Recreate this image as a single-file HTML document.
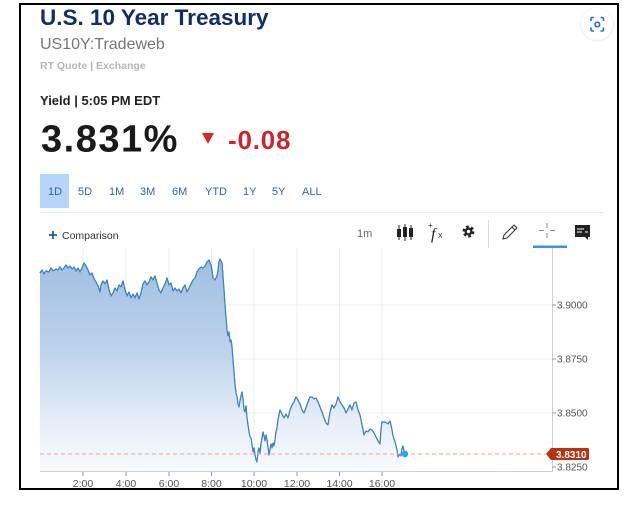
<!DOCTYPE html>
<html><head><meta charset="utf-8"><style>
html,body{margin:0;padding:0;background:#fff;}
body{width:628px;height:509px;overflow:hidden;}
svg{display:block;font-family:"Liberation Sans",sans-serif;}
</style></head><body>
<svg width="628" height="509" viewBox="0 0 628 509" xmlns="http://www.w3.org/2000/svg">
<defs>
<linearGradient id="g" x1="0" y1="258" x2="0" y2="471" gradientUnits="userSpaceOnUse">
<stop offset="0" stop-color="#a0bfe1"/>
<stop offset="0.45" stop-color="#bed3ec"/>
<stop offset="0.75" stop-color="#e4edf8"/>
<stop offset="1" stop-color="#f8fafd"/>
</linearGradient>
</defs>
<rect width="628" height="509" fill="#fff"/>

<!-- header -->
<text x="40" y="25" font-size="22.5" font-weight="bold" fill="#112e6a">U.S. 10 Year Treasury</text>
<text x="40" y="49" font-size="16" fill="#767676">US10Y:Tradeweb</text>
<text x="40" y="69" font-size="10.5" font-weight="bold" fill="#b5b5b5">RT Quote | Exchange</text>
<text x="40" y="105" font-size="13" font-weight="bold" fill="#222">Yield | 5:05 PM EDT</text>
<text x="41" y="151.5" font-size="38" font-weight="bold" fill="#1a1a1a" letter-spacing="1.5">3.831%</text>
<polygon points="202,133 214,133 208,144" fill="#d42a2a"/>
<text x="228" y="149" font-size="26" font-weight="bold" fill="#d0242b" letter-spacing="0.8">-0.08</text>

<!-- camera button -->
<circle cx="597" cy="24.5" r="17" fill="#f1f1f1"/>
<circle cx="597" cy="24" r="16" fill="#fff"/>
<g fill="none" stroke="#2a6ecf" stroke-width="1.6">
<path d="M591,21 V19 Q591,17.5 592.5,17.5 H594"/>
<path d="M600.5,17.5 H602 Q603.5,17.5 603.5,19 V21"/>
<path d="M591,27.5 V29.5 Q591,31 592.5,31 H594"/>
<path d="M600.5,31 H602 Q603.5,31 603.5,29.5 V27.5"/>
<circle cx="597.3" cy="24.5" r="2.3"/>
</g>

<!-- tabs -->
<rect x="40" y="174" width="29" height="34" fill="#b5d5fa"/>
<g font-size="11" fill="#2768b8">
<text x="48" y="195">1D</text>
<text x="78" y="195">5D</text>
<text x="109" y="195">1M</text>
<text x="140" y="195">3M</text>
<text x="172" y="195">6M</text>
<text x="205" y="195">YTD</text>
<text x="243" y="195">1Y</text>
<text x="272" y="195">5Y</text>
<text x="302" y="195">ALL</text>
</g>
<line x1="40" y1="212.5" x2="604" y2="212.5" stroke="#e6e6e6" stroke-width="1"/>

<!-- toolbar -->
<path d="M49,235 H57 M53,231 V239" stroke="#1f5fb0" stroke-width="1.8"/>
<text x="62" y="239" font-size="10.5" fill="#333">Comparison</text>
<text x="357" y="237" font-size="11" fill="#666">1m</text>
<!-- candles -->
<g stroke="#222" stroke-width="1">
<line x1="399" y1="225" x2="399" y2="240"/>
<line x1="405" y1="224" x2="405" y2="241"/>
<line x1="411" y1="225" x2="411" y2="240"/>
</g>
<g fill="#222">
<rect x="397" y="229" width="4" height="8"/>
<rect x="403" y="227" width="4" height="10"/>
<rect x="409" y="228" width="4" height="9"/>
</g>
<!-- fx -->
<text x="428" y="228" font-size="8" fill="#222">+</text>
<text x="431" y="239" font-size="16" font-style="italic" font-family="Liberation Serif, serif" fill="#222">f</text>
<text x="438" y="238" font-size="9" fill="#444">x</text>
<!-- gear -->
<circle cx="468.5" cy="231.5" r="4.3" fill="none" stroke="#222" stroke-width="3.4" stroke-dasharray="2.4 2.1"/>
<circle cx="468.5" cy="231.5" r="4" fill="#222"/>
<circle cx="468.5" cy="231.5" r="1.7" fill="#fff"/>
<line x1="488.5" y1="220" x2="488.5" y2="248" stroke="#dcdcdc"/>
<!-- pencil -->
<path d="M503,239 L504,235 L514,225 L517,228 L507,238 Z M512,227 L515,230" fill="none" stroke="#333" stroke-width="1"/>
<!-- crosshair -->
<g stroke="#888" stroke-width="1">
<line x1="547" y1="223" x2="547" y2="228"/>
<line x1="547" y1="233" x2="547" y2="238"/>
<line x1="539" y1="230.5" x2="544" y2="230.5"/>
<line x1="550" y1="230.5" x2="555" y2="230.5"/>
</g>
<rect x="533" y="245.5" width="34" height="2.5" fill="#3d8fe8"/>
<!-- comment icon -->
<path d="M575,225 H590 V237 H588 L588,240 L585,237 H575 Z" fill="#222"/>
<g stroke="#fff" stroke-width="1">
<line x1="577" y1="229" x2="584" y2="229"/>
<line x1="577" y1="232" x2="582" y2="232"/>
<line x1="585" y1="232" x2="588" y2="232"/>
</g>

<!-- grid -->
<g stroke="#ececec" stroke-width="1">
<line x1="83" y1="248" x2="83" y2="471"/>
<line x1="126" y1="248" x2="126" y2="471"/>
<line x1="169" y1="248" x2="169" y2="471"/>
<line x1="211.5" y1="248" x2="211.5" y2="471"/>
<line x1="254" y1="248" x2="254" y2="471"/>
<line x1="297" y1="248" x2="297" y2="471"/>
<line x1="339.5" y1="248" x2="339.5" y2="471"/>
<line x1="382" y1="248" x2="382" y2="471"/>
<line x1="40" y1="305" x2="552" y2="305"/>
<line x1="40" y1="359" x2="552" y2="359"/>
<line x1="40" y1="413" x2="552" y2="413"/>
</g>

<!-- series -->
<path id="ln" d="M40,273 L42,270 L44,274 L46,271 L49,272 L51,268 L53,271 L56,269 L58,270 L60,267 L62,270 L64,268 L66,265 L68,268 L70,266 L72,269 L74,267 L76,271 L78,268 L80,272 L82,268 L84,263 L86,266 L88,270 L90,275 L92,273 L94,279 L96,282 L98,286 L100,292 L101,285 L103,281 L105,284 L107,280 L109,290 L111,296 L113,293 L115,288 L117,291 L119,285 L121,287 L123,281 L125,290 L127,296 L129,292 L131,298 L133,294 L135,298 L137,293 L139,299 L141,293 L143,284 L145,281 L147,285 L149,282 L151,277 L153,280 L155,276 L157,283 L159,290 L161,293 L163,288 L165,284 L167,278 L169,285 L171,283 L173,291 L175,288 L177,291 L179,289 L181,293 L183,288 L185,285 L187,292 L189,288 L191,284 L193,280 L195,278 L197,272 L199,269 L201,267 L203,268 L205,266 L207,262 L209,260 L211,265 L212,270 L213,278 L215,280 L217,276 L218,270 L219,262 L220,259 L222,263 L223,276 L224,290 L225,305 L226,318 L227,330 L228,336 L229,332 L230,342 L231,340 L232,347 L233,360 L234,372 L235,385 L236,393 L237,397 L238,404 L239,407 L240,401 L241,396 L242,392 L243,399 L244,410 L245,412 L246,406 L247,418 L248,425 L249,432 L250,437 L251,438 L252,445 L253,452 L254,448 L255,455 L256,460 L257,462 L258,452 L259,448 L260,453 L261,444 L262,438 L263,432 L264,436 L265,441 L266,435 L267,440 L268,448 L269,455 L270,450 L271,444 L272,448 L273,443 L274,446 L275,440 L276,432 L277,428 L278,420 L279,415 L280,410 L282,414 L284,418 L286,414 L288,418 L290,410 L292,405 L294,402 L296,397 L298,400 L300,404 L302,410 L304,413 L306,408 L308,402 L310,397 L312,397 L314,399 L316,398 L318,402 L320,407 L322,412 L324,418 L326,423 L328,425 L330,412 L332,405 L334,408 L336,404 L338,397 L340,402 L342,405 L344,408 L346,413 L348,409 L350,405 L352,410 L354,403 L356,402 L358,410 L360,415 L362,425 L364,435 L366,431 L368,432 L370,429 L372,430 L374,433 L376,437 L378,441 L380,444 L381,430 L382,422 L385,422 L388,424 L390,421 L392,430 L393,436 L395,442 L397,450 L398,457 L400,454 L401,456 L402,449 L403,446 L404,451 L405,454" fill="none" stroke="#3b82c4" stroke-width="1.2" stroke-linejoin="round"/>
<path d="M40,273 L42,270 L44,274 L46,271 L49,272 L51,268 L53,271 L56,269 L58,270 L60,267 L62,270 L64,268 L66,265 L68,268 L70,266 L72,269 L74,267 L76,271 L78,268 L80,272 L82,268 L84,263 L86,266 L88,270 L90,275 L92,273 L94,279 L96,282 L98,286 L100,292 L101,285 L103,281 L105,284 L107,280 L109,290 L111,296 L113,293 L115,288 L117,291 L119,285 L121,287 L123,281 L125,290 L127,296 L129,292 L131,298 L133,294 L135,298 L137,293 L139,299 L141,293 L143,284 L145,281 L147,285 L149,282 L151,277 L153,280 L155,276 L157,283 L159,290 L161,293 L163,288 L165,284 L167,278 L169,285 L171,283 L173,291 L175,288 L177,291 L179,289 L181,293 L183,288 L185,285 L187,292 L189,288 L191,284 L193,280 L195,278 L197,272 L199,269 L201,267 L203,268 L205,266 L207,262 L209,260 L211,265 L212,270 L213,278 L215,280 L217,276 L218,270 L219,262 L220,259 L222,263 L223,276 L224,290 L225,305 L226,318 L227,330 L228,336 L229,332 L230,342 L231,340 L232,347 L233,360 L234,372 L235,385 L236,393 L237,397 L238,404 L239,407 L240,401 L241,396 L242,392 L243,399 L244,410 L245,412 L246,406 L247,418 L248,425 L249,432 L250,437 L251,438 L252,445 L253,452 L254,448 L255,455 L256,460 L257,462 L258,452 L259,448 L260,453 L261,444 L262,438 L263,432 L264,436 L265,441 L266,435 L267,440 L268,448 L269,455 L270,450 L271,444 L272,448 L273,443 L274,446 L275,440 L276,432 L277,428 L278,420 L279,415 L280,410 L282,414 L284,418 L286,414 L288,418 L290,410 L292,405 L294,402 L296,397 L298,400 L300,404 L302,410 L304,413 L306,408 L308,402 L310,397 L312,397 L314,399 L316,398 L318,402 L320,407 L322,412 L324,418 L326,423 L328,425 L330,412 L332,405 L334,408 L336,404 L338,397 L340,402 L342,405 L344,408 L346,413 L348,409 L350,405 L352,410 L354,403 L356,402 L358,410 L360,415 L362,425 L364,435 L366,431 L368,432 L370,429 L372,430 L374,433 L376,437 L378,441 L380,444 L381,430 L382,422 L385,422 L388,424 L390,421 L392,430 L393,436 L395,442 L397,450 L398,457 L400,454 L401,456 L402,449 L403,446 L404,451 L405,454 L405,471 L40,471 Z" fill="url(#g)"/>
<use href="#ln"/>

<!-- last price line -->
<line x1="40" y1="454" x2="546" y2="454" stroke="#f2a48f" stroke-width="1" stroke-dasharray="4 3"/>
<circle cx="405" cy="454" r="3.2" fill="#1ea7ec"/>

<!-- axes -->
<line x1="552.5" y1="248" x2="552.5" y2="472" stroke="#cfcfcf"/>
<line x1="40" y1="471.5" x2="553" y2="471.5" stroke="#cfcfcf"/>
<g stroke="#999" stroke-width="1">
<line x1="83" y1="472" x2="83" y2="476"/>
<line x1="126" y1="472" x2="126" y2="476"/>
<line x1="169" y1="472" x2="169" y2="476"/>
<line x1="211.5" y1="472" x2="211.5" y2="476"/>
<line x1="254" y1="472" x2="254" y2="476"/>
<line x1="297" y1="472" x2="297" y2="476"/>
<line x1="339.5" y1="472" x2="339.5" y2="476"/>
<line x1="382" y1="472" x2="382" y2="476"/>
<line x1="552" y1="305" x2="556" y2="305"/>
<line x1="552" y1="359" x2="556" y2="359"/>
<line x1="552" y1="413" x2="556" y2="413"/>
<line x1="552" y1="467" x2="556" y2="467"/>
</g>
<g font-size="10.5" fill="#555" text-anchor="middle">
<text x="83" y="487">2:00</text>
<text x="126" y="487">4:00</text>
<text x="169" y="487">6:00</text>
<text x="211.5" y="487">8:00</text>
<text x="254" y="487">10:00</text>
<text x="297" y="487">12:00</text>
<text x="339.5" y="487">14:00</text>
<text x="382" y="487">16:00</text>
</g>
<g font-size="10" fill="#555">
<text x="557" y="308.5">3.9000</text>
<text x="557" y="362.5">3.8750</text>
<text x="557" y="416.5">3.8500</text>
<text x="557" y="470.5">3.8250</text>
</g>
<path d="M546,454 L551,448 L587.5,448 Q589,448 589,449.5 L589,458.5 Q589,460 587.5,460 L551,460 Z" fill="#b8330f"/>
<text x="556" y="457.8" font-size="10" font-weight="bold" fill="#fff">3.8310</text>

<!-- frame -->
<rect x="20" y="4" width="598" height="485" fill="none" stroke="#000" stroke-width="2"/>
</svg>
</body></html>
